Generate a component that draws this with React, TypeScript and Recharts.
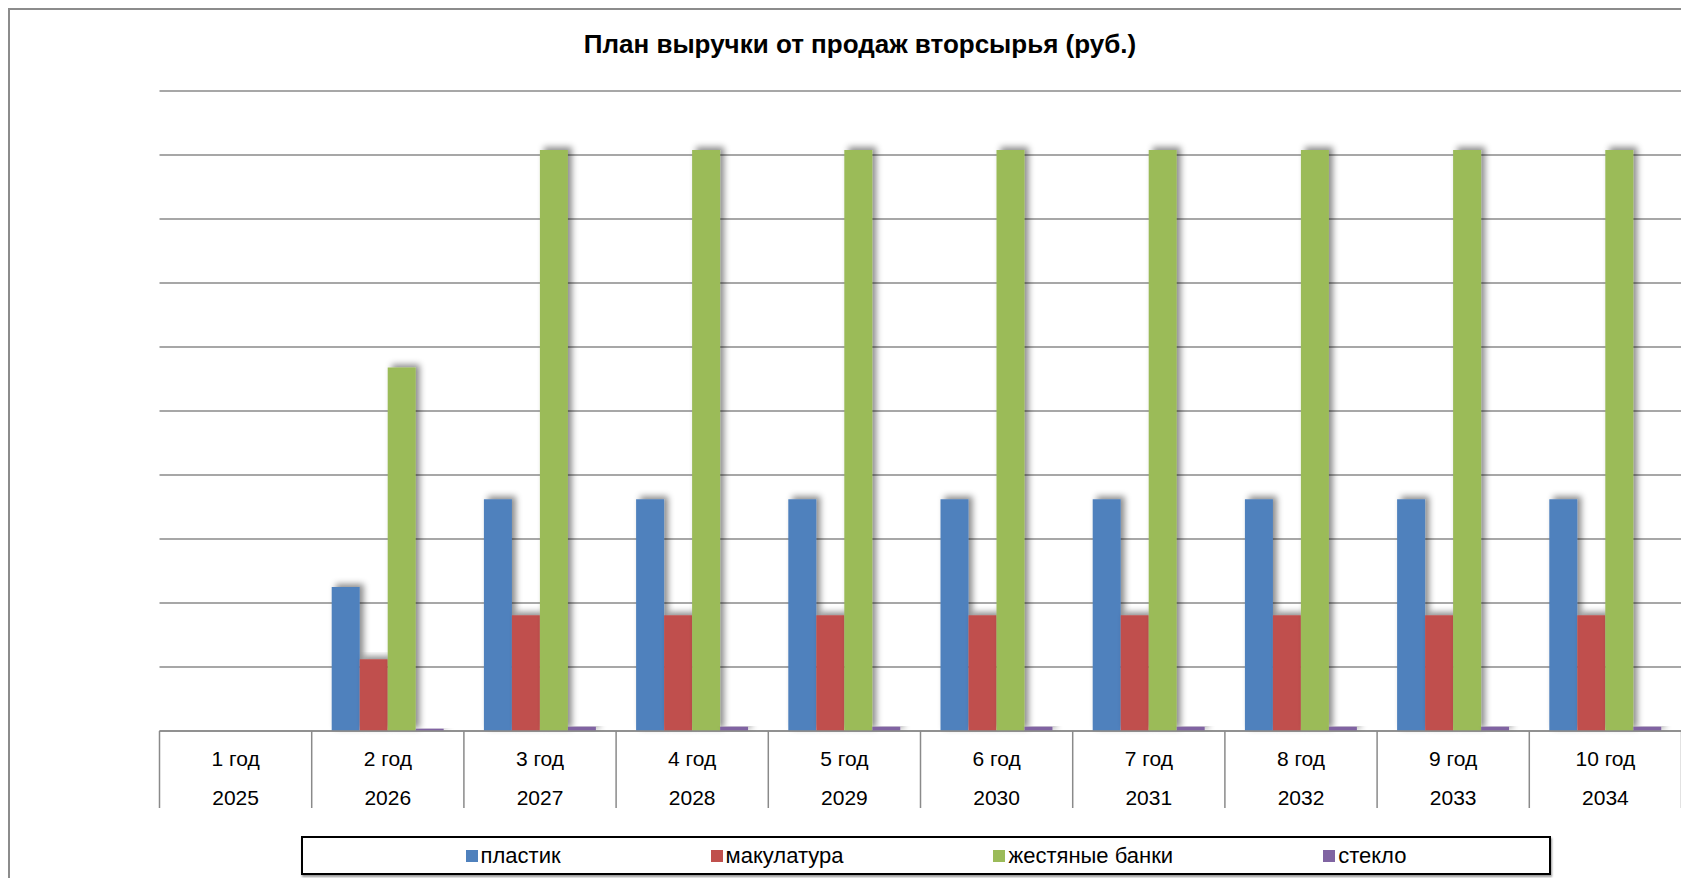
import React from "react";
import { BarChart, Bar, XAxis, YAxis, CartesianGrid } from "recharts";

// categories (two-level axis: period + year)
const periods = ["1 год", "2 год", "3 год", "4 год", "5 год", "6 год", "7 год", "8 год", "9 год", "10 год"];
const years = [2025, 2026, 2027, 2028, 2029, 2030, 2031, 2032, 2033, 2034];

// series values (no value axis in the source, read in grid units x100)
const plastic = [0, 225, 362, 362, 362, 362, 362, 362, 362, 362];
const paper = [0, 112, 181, 181, 181, 181, 181, 181, 181, 181];
const cans = [0, 568, 908, 908, 908, 908, 908, 908, 908, 908];
const glass = [0, 3.6, 6.7, 6.7, 6.7, 6.7, 6.7, 6.7, 6.7, 6.7];

const seriesNames = ["пластик", "макулатура", "жестяные банки", "стекло"];
const seriesKeys = ["plastic", "paper", "cans", "glass"];
const COLORS = ["#4F81BD", "#C0504D", "#9BBB59", "#8064A2"];

const yTicks = [0, 100, 200, 300, 400, 500, 600, 700, 800, 900, 1000];

const data = periods.map((p, i) => ({
  period: p,
  year: years[i],
  plastic: plastic[i],
  paper: paper[i],
  cans: cans[i],
  glass: glass[i],
}));

const FONT = "'Liberation Sans', Arial, sans-serif";
const W = 1680;
const H = 870;
const PLOT_LEFT = 151.5;
const PLOT_TOP = 83;
const PLOT_W = 1522;
const GRID = "#8a8a8a";
const BAND = PLOT_W / periods.length;

const CategoryTick = (props: any) => {
  const { x, y, payload } = props;
  const i = props.index ?? payload.index;
  const half = BAND / 2;
  return (
    <g>
      <line x1={x - half} x2={x - half} y1={y} y2={y + 77} stroke={GRID} strokeWidth={1.5} />
      {i === periods.length - 1 && (
        <line x1={x + half} x2={x + half} y1={y} y2={y + 77} stroke={GRID} strokeWidth={1.5} />
      )}
      <text x={x} y={y + 27} textAnchor="middle" dominantBaseline="central" fontSize={21} fontFamily={FONT} fill="#000">
        {payload.value}
      </text>
      <text x={x} y={y + 66} textAnchor="middle" dominantBaseline="central" fontSize={21} fontFamily={FONT} fill="#000">
        {years[i]}
      </text>
    </g>
  );
};

export default function App() {
  return (
    <div style={{ position: "relative", width: W, height: H, overflow: "hidden", fontFamily: FONT }}>
      <svg width={0} height={0} style={{ position: "absolute" }}>
        <defs>
          <filter id="barShadow" x="-50%" y="-10%" width="200%" height="120%">
            <feDropShadow dx={4} dy={-3} stdDeviation={3} floodColor="#000" floodOpacity={0.45} />
          </filter>
        </defs>
      </svg>
      <div
        style={{
          position: "absolute",
          left: 0,
          top: 0,
          width: 3000,
          height: 3000,
          borderLeft: "2px solid #8c8c8c",
          borderTop: "2px solid #8c8c8c",
        }}
      />
      <div
        style={{
          position: "absolute",
          left: 852,
          top: 36,
          transform: "translate(-50%, -50%)",
          whiteSpace: "nowrap",
          fontWeight: "bold",
          fontSize: 26,
          color: "#000",
        }}
      >
        План выручки от продаж вторсырья (руб.)
      </div>
      <div style={{ position: "absolute", left: 0, top: 0 }}>
        <BarChart
          width={W}
          height={H}
          data={data}
          barSize={28}
          barGap={0}
          margin={{ top: PLOT_TOP, left: PLOT_LEFT, right: W - PLOT_LEFT - PLOT_W, bottom: 67 }}
        >
          <CartesianGrid vertical={false} stroke={GRID} strokeWidth={1.5} />
          <YAxis hide width={0} domain={[0, 1000]} ticks={yTicks} />
          <XAxis
            dataKey="period"
            height={80}
            tickSize={0}
            tickMargin={0}
            tickLine={false}
            axisLine={{ stroke: GRID, strokeWidth: 1.5 }}
            interval={0}
            tick={<CategoryTick />}
          />
          {seriesKeys.map((k, i) => (
            <Bar
              key={k}
              dataKey={k}
              name={seriesNames[i]}
              fill={COLORS[i]}
              isAnimationActive={false}
              style={{ filter: "url(#barShadow)" }}
            />
          ))}
        </BarChart>
      </div>
      <div
        style={{
          position: "absolute",
          left: 293,
          top: 828,
          width: 1250,
          height: 39,
          boxSizing: "border-box",
          border: "2px solid #000",
          boxShadow: "1px 2px 2px #999",
          display: "flex",
          alignItems: "center",
          justifyContent: "center",
          gap: 150,
          paddingLeft: 20,
          background: "#fff",
        }}
      >
        {seriesNames.map((n, i) => (
          <div key={n} style={{ display: "flex", alignItems: "center", fontSize: 22, color: "#000" }}>
            <span style={{ width: 12, height: 12, background: COLORS[i], marginRight: 3, display: "inline-block" }} />
            {n}
          </div>
        ))}
      </div>
    </div>
  );
}
